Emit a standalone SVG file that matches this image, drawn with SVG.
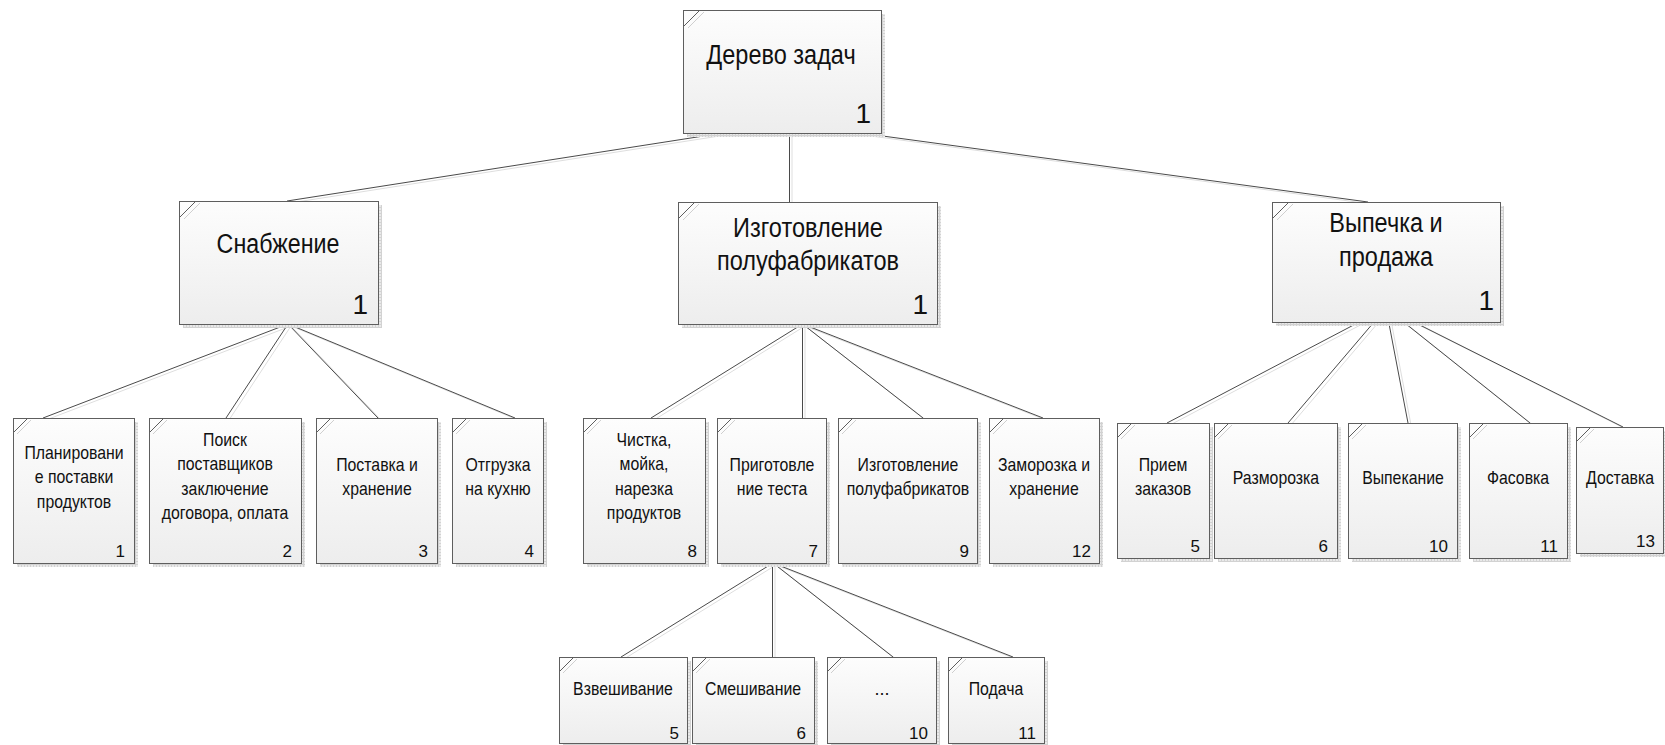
<svg xmlns="http://www.w3.org/2000/svg" width="1665" height="745" viewBox="0 0 1665 745">
  <defs>
    <linearGradient id="boxFill" x1="0" y1="0" x2="0" y2="1">
      <stop offset="0" stop-color="#fdfdfd"/>
      <stop offset="1" stop-color="#ededed"/>
    </linearGradient>
    <pattern id="shadowGrid" width="3" height="3" patternUnits="userSpaceOnUse">
      <rect width="3" height="3" fill="#e9e9e9"/>
      <path d="M0 0.5H3M0.5 0V3" stroke="#d2d2d2" stroke-width="1"/>
    </pattern>
    <style>
      .box { fill: url(#boxFill); stroke: #5e5e5e; stroke-width: 1; }
      .shadow { fill: url(#shadowGrid); }
      .tab { stroke: #5e5e5e; stroke-width: 1; fill: none; }
      .tab2 { stroke: #cfcfcf; stroke-width: 1; fill: none; }
      .link { stroke: #4a4a4a; stroke-width: 1; fill: none; }
      .link2 { stroke: #dedede; stroke-width: 1; fill: none; }
      text { font-family: "Liberation Sans", Arial, sans-serif; fill: #111; }
      .big { font-size: 28px; text-anchor: middle; }
      .bignum { font-size: 28px; text-anchor: end; }
      .small { font-size: 18px; text-anchor: middle; }
      .num { font-size: 17px; text-anchor: end; }
    </style>
  </defs>

  <rect width="1665" height="745" fill="#ffffff"/>

  <!-- connectors: faint offset copies first, then the dark lines -->
  <g id="connectors">
    <g class="link2" transform="translate(3,2)">
      <path d="M787 123L287 201M789 133V202M787 123L1368 202"/>
      <path d="M288 324L43 418M288 324L226 418M288 324L378 418M288 324L515 418"/>
      <path d="M802 324L651 418M802 324V418M802 324L923 418M802 324L1043 418"/>
      <path d="M1386 308L1167 423M1386 308L1288 423M1386 308L1408 423M1386 308L1530 423M1386 308L1623 427"/>
      <path d="M773 563L621 657M772 563V657M773 563L893 657M773 563L1013 657"/>
    </g>
    <g class="link">
      <path d="M787 123L287 201M789.5 133V202M787 123L1368 202"/>
      <path d="M288 324L43 418M288 324L226 418M288 324L378 418M288 324L515 418"/>
      <path d="M802.5 324L651 418M802.5 324V418M802.5 324L923 418M802.5 324L1043 418"/>
      <path d="M1386 308L1167 423M1386 308L1288 423M1386 308L1408 423M1386 308L1530 423M1386 308L1623 427"/>
      <path d="M773 563L621 657M772.5 563V657M773 563L893 657M773 563L1013 657"/>
    </g>
  </g>

  <!-- level 0 -->
  <g id="n-root">
    <rect class="shadow" x="687" y="14" width="198" height="123"/>
    <rect class="box" x="683.5" y="10.5" width="198" height="123"/>
    <path class="tab2" d="M688 28L704 12"/>
    <path class="tab" d="M684 26L700 10"/>
    <g transform="translate(781 0) scale(0.84 1)">
      <text class="big" x="0" y="64">Дерево задач</text>
    </g>
    <text class="bignum" x="871" y="123">1</text>
  </g>

  <!-- level 1 -->
  <g id="n-supply">
    <rect class="shadow" x="183" y="205" width="199" height="123"/>
    <rect class="box" x="179.5" y="201.5" width="199" height="123"/>
    <path class="tab2" d="M184 219L200 203"/>
    <path class="tab" d="M180 217L196 201"/>
    <g transform="translate(278 0) scale(0.83 1)">
      <text class="big" x="0" y="253">Снабжение</text>
    </g>
    <text class="bignum" x="368" y="314">1</text>
  </g>

  <g id="n-semi">
    <rect class="shadow" x="682" y="206" width="259" height="122"/>
    <rect class="box" x="678.5" y="202.5" width="259" height="122"/>
    <path class="tab2" d="M683 220L699 204"/>
    <path class="tab" d="M679 218L695 202"/>
    <g transform="translate(808 0) scale(0.84 1)">
      <text class="big" x="0" y="237">Изготовление</text>
      <text class="big" x="0" y="270">полуфабрикатов</text>
    </g>
    <text class="bignum" x="928" y="314">1</text>
  </g>

  <g id="n-bake">
    <rect class="shadow" x="1276" y="206" width="228" height="120"/>
    <rect class="box" x="1272.5" y="202.5" width="228" height="120"/>
    <path class="tab2" d="M1277 220L1293 204"/>
    <path class="tab" d="M1273 218L1289 202"/>
    <g transform="translate(1386 0) scale(0.84 1)">
      <text class="big" x="0" y="232">Выпечка и</text>
      <text class="big" x="0" y="266">продажа</text>
    </g>
    <text class="bignum" x="1494" y="310">1</text>
  </g>

  <!-- level 2: supply -->
  <g id="n-s1">
    <rect class="shadow" x="17" y="422" width="121" height="145"/>
    <rect class="box" x="13.5" y="418.5" width="121" height="145"/>
    <path class="tab2" d="M17 434L31 420"/>
    <path class="tab" d="M14 432L28 418"/>
    <g transform="translate(74 0) scale(0.88 1)">
      <text class="small" x="0" y="459">Планировани</text>
      <text class="small" x="0" y="483.5">е поставки</text>
      <text class="small" x="0" y="508">продуктов</text>
    </g>
    <text class="num" x="125" y="557">1</text>
  </g>

  <g id="n-s2">
    <rect class="shadow" x="153" y="422" width="152" height="145"/>
    <rect class="box" x="149.5" y="418.5" width="152" height="145"/>
    <path class="tab2" d="M153 434L167 420"/>
    <path class="tab" d="M150 432L164 418"/>
    <g transform="translate(225 0) scale(0.88 1)">
      <text class="small" x="0" y="446">Поиск</text>
      <text class="small" x="0" y="470.5">поставщиков</text>
      <text class="small" x="0" y="495">заключение</text>
      <text class="small" x="0" y="519.5">договора, оплата</text>
    </g>
    <text class="num" x="292" y="557">2</text>
  </g>

  <g id="n-s3">
    <rect class="shadow" x="320" y="422" width="121" height="145"/>
    <rect class="box" x="316.5" y="418.5" width="121" height="145"/>
    <path class="tab2" d="M320 434L334 420"/>
    <path class="tab" d="M317 432L331 418"/>
    <g transform="translate(377 0) scale(0.88 1)">
      <text class="small" x="0" y="471">Поставка и</text>
      <text class="small" x="0" y="495.5">хранение</text>
    </g>
    <text class="num" x="428" y="557">3</text>
  </g>

  <g id="n-s4">
    <rect class="shadow" x="456" y="422" width="91" height="145"/>
    <rect class="box" x="452.5" y="418.5" width="91" height="145"/>
    <path class="tab2" d="M456 434L470 420"/>
    <path class="tab" d="M453 432L467 418"/>
    <g transform="translate(498 0) scale(0.88 1)">
      <text class="small" x="0" y="471">Отгрузка</text>
      <text class="small" x="0" y="495.5">на кухню</text>
    </g>
    <text class="num" x="534" y="557">4</text>
  </g>

  <!-- level 2: semi-finished goods -->
  <g id="n-m8">
    <rect class="shadow" x="587" y="422" width="122" height="145"/>
    <rect class="box" x="583.5" y="418.5" width="122" height="145"/>
    <path class="tab2" d="M587 434L601 420"/>
    <path class="tab" d="M584 432L598 418"/>
    <g transform="translate(644 0) scale(0.88 1)">
      <text class="small" x="0" y="446">Чистка,</text>
      <text class="small" x="0" y="470.5">мойка,</text>
      <text class="small" x="0" y="495">нарезка</text>
      <text class="small" x="0" y="519.5">продуктов</text>
    </g>
    <text class="num" x="697" y="557">8</text>
  </g>

  <g id="n-m7">
    <rect class="shadow" x="721" y="422" width="109" height="145"/>
    <rect class="box" x="717.5" y="418.5" width="109" height="145"/>
    <path class="tab2" d="M721 434L735 420"/>
    <path class="tab" d="M718 432L732 418"/>
    <g transform="translate(772 0) scale(0.88 1)">
      <text class="small" x="0" y="471">Приготовле</text>
      <text class="small" x="0" y="495.5">ние теста</text>
    </g>
    <text class="num" x="818" y="557">7</text>
  </g>

  <g id="n-m9">
    <rect class="shadow" x="842" y="422" width="139" height="145"/>
    <rect class="box" x="838.5" y="418.5" width="139" height="145"/>
    <path class="tab2" d="M842 434L856 420"/>
    <path class="tab" d="M839 432L853 418"/>
    <g transform="translate(908 0) scale(0.88 1)">
      <text class="small" x="0" y="471">Изготовление</text>
      <text class="small" x="0" y="495.5">полуфабрикатов</text>
    </g>
    <text class="num" x="969" y="557">9</text>
  </g>

  <g id="n-m12">
    <rect class="shadow" x="993" y="422" width="110" height="145"/>
    <rect class="box" x="989.5" y="418.5" width="110" height="145"/>
    <path class="tab2" d="M993 434L1007 420"/>
    <path class="tab" d="M990 432L1004 418"/>
    <g transform="translate(1044 0) scale(0.88 1)">
      <text class="small" x="0" y="471">Заморозка и</text>
      <text class="small" x="0" y="495.5">хранение</text>
    </g>
    <text class="num" x="1091" y="557">12</text>
  </g>

  <!-- level 2: baking and sales -->
  <g id="n-b5">
    <rect class="shadow" x="1121" y="427" width="92" height="135"/>
    <rect class="box" x="1117.5" y="423.5" width="92" height="135"/>
    <path class="tab2" d="M1121 439L1135 425"/>
    <path class="tab" d="M1118 437L1132 423"/>
    <g transform="translate(1163 0) scale(0.88 1)">
      <text class="small" x="0" y="471">Прием</text>
      <text class="small" x="0" y="495.5">заказов</text>
    </g>
    <text class="num" x="1200" y="552">5</text>
  </g>

  <g id="n-b6">
    <rect class="shadow" x="1218" y="427" width="123" height="135"/>
    <rect class="box" x="1214.5" y="423.5" width="123" height="135"/>
    <path class="tab2" d="M1218 439L1232 425"/>
    <path class="tab" d="M1215 437L1229 423"/>
    <g transform="translate(1276 0) scale(0.88 1)">
      <text class="small" x="0" y="484">Разморозка</text>
    </g>
    <text class="num" x="1328" y="552">6</text>
  </g>

  <g id="n-b10">
    <rect class="shadow" x="1352" y="427" width="109" height="135"/>
    <rect class="box" x="1348.5" y="423.5" width="109" height="135"/>
    <path class="tab2" d="M1352 439L1366 425"/>
    <path class="tab" d="M1349 437L1363 423"/>
    <g transform="translate(1403 0) scale(0.88 1)">
      <text class="small" x="0" y="484">Выпекание</text>
    </g>
    <text class="num" x="1448" y="552">10</text>
  </g>

  <g id="n-b11">
    <rect class="shadow" x="1473" y="427" width="98" height="135"/>
    <rect class="box" x="1469.5" y="423.5" width="98" height="135"/>
    <path class="tab2" d="M1473 439L1487 425"/>
    <path class="tab" d="M1470 437L1484 423"/>
    <g transform="translate(1518 0) scale(0.88 1)">
      <text class="small" x="0" y="484">Фасовка</text>
    </g>
    <text class="num" x="1558" y="552">11</text>
  </g>

  <g id="n-b13">
    <rect class="shadow" x="1580" y="431" width="87" height="126"/>
    <rect class="box" x="1576.5" y="427.5" width="87" height="126"/>
    <path class="tab2" d="M1580 443L1594 429"/>
    <path class="tab" d="M1577 441L1591 427"/>
    <g transform="translate(1620 0) scale(0.88 1)">
      <text class="small" x="0" y="484">Доставка</text>
    </g>
    <text class="num" x="1655" y="547">13</text>
  </g>

  <!-- level 3: dough preparation steps -->
  <g id="n-d5">
    <rect class="shadow" x="563" y="661" width="128" height="86"/>
    <rect class="box" x="559.5" y="657.5" width="128" height="86"/>
    <path class="tab2" d="M563 673L577 659"/>
    <path class="tab" d="M560 671L574 657"/>
    <g transform="translate(623 0) scale(0.88 1)">
      <text class="small" x="0" y="695">Взвешивание</text>
    </g>
    <text class="num" x="679" y="739">5</text>
  </g>

  <g id="n-d6">
    <rect class="shadow" x="696" y="661" width="122" height="86"/>
    <rect class="box" x="692.5" y="657.5" width="122" height="86"/>
    <path class="tab2" d="M696 673L710 659"/>
    <path class="tab" d="M693 671L707 657"/>
    <g transform="translate(753 0) scale(0.88 1)">
      <text class="small" x="0" y="695">Смешивание</text>
    </g>
    <text class="num" x="806" y="739">6</text>
  </g>

  <g id="n-d10">
    <rect class="shadow" x="831" y="661" width="109" height="86"/>
    <rect class="box" x="827.5" y="657.5" width="109" height="86"/>
    <path class="tab2" d="M831 673L845 659"/>
    <path class="tab" d="M828 671L842 657"/>
    <text class="small" x="882" y="695">...</text>
    <text class="num" x="928" y="739">10</text>
  </g>

  <g id="n-d11">
    <rect class="shadow" x="952" y="661" width="96" height="86"/>
    <rect class="box" x="948.5" y="657.5" width="96" height="86"/>
    <path class="tab2" d="M952 673L966 659"/>
    <path class="tab" d="M949 671L963 657"/>
    <g transform="translate(996 0) scale(0.88 1)">
      <text class="small" x="0" y="695">Подача</text>
    </g>
    <text class="num" x="1036" y="739">11</text>
  </g>
</svg>
